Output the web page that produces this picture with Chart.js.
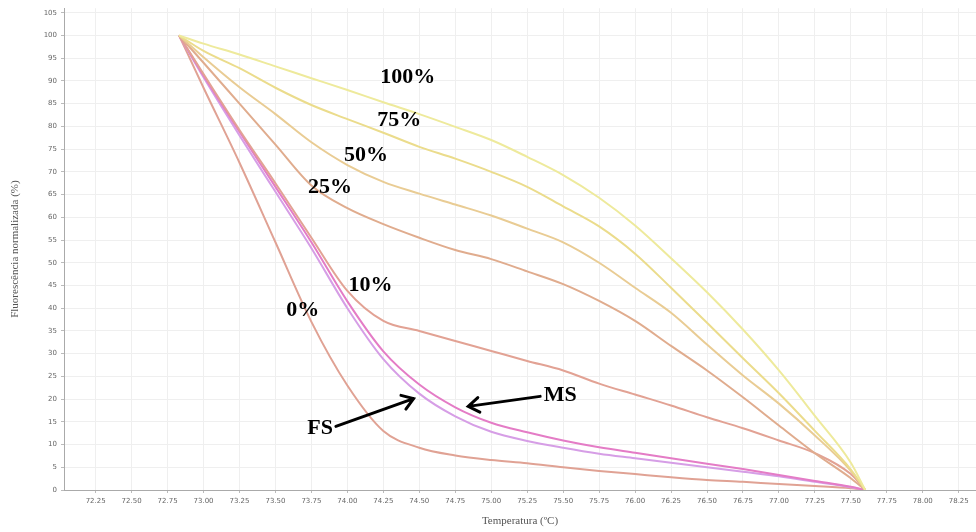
<!DOCTYPE html>
<html>
<head>
<meta charset="utf-8">
<script src="https://cdn.jsdelivr.net/npm/chart.js@4.4.1/dist/chart.umd.min.js"></script>
<style>
  html, body { margin: 0; padding: 0; background: #fff; }
  #wrap { width: 976px; height: 532px; }
</style>
</head>
<body>
<div id="wrap"><canvas id="myChart" width="976" height="532"></canvas></div>
<script>
'use strict';
// temperature (ºC) and normalised fluorescence (%)
let temps = [72.83, 73.00, 73.25, 73.50, 73.75, 74.00, 74.25, 74.50, 74.75, 75.00, 75.25,
  75.50, 75.75, 76.00, 76.25, 76.50, 76.75, 77.00, 77.25, 77.50, 77.60];
let pct100 = [100, 98.2, 95.8, 93.2, 90.6, 88.0, 85.3, 82.7, 79.9, 77.0, 73.3, 69.3, 64.3, 58.2, 51.0, 43.5, 35.3, 26.3, 16.3, 6.0, 0];
let pct75 = [100, 96.6, 92.8, 88.5, 84.7, 81.6, 78.6, 75.5, 72.9, 70.0, 66.7, 62.4, 58.0, 52.0, 44.5, 36.8, 29.0, 21.3, 13.0, 4.5, 0];
let pct50 = [100, 95.2, 88.6, 82.7, 76.5, 71.5, 67.8, 65.2, 62.8, 60.4, 57.5, 54.5, 50.0, 44.5, 39.0, 32.0, 25.2, 19.0, 12.0, 4.2, 0];
let pct25 = [100, 94.0, 85.0, 76.0, 67.0, 62.0, 58.5, 55.5, 52.8, 50.8, 48.1, 45.3, 41.6, 37.2, 31.7, 26.3, 20.4, 14.2, 8.1, 2.6, 0];
let pct10 = [100, 91.5, 79.2, 67.5, 55.5, 43.8, 37.2, 35.0, 32.8, 30.6, 28.4, 26.3, 23.4, 21.0, 18.6, 16.0, 13.6, 10.9, 8.1, 3.5, 0];
let fsCurve = [100, 91.2, 78.8, 66.7, 54.5, 41.5, 30.5, 23.2, 18.2, 14.8, 12.7, 10.9, 9.4, 8.2, 7.0, 5.8, 4.6, 3.3, 2.0, 0.7, 0];
let msCurve = [100, 90.8, 78.0, 65.6, 53.2, 40.0, 28.8, 21.2, 16.2, 12.8, 10.8, 9.3, 8.0, 7.0, 6.0, 5.0, 4.0, 3.0, 1.8, 0.6, 0];
let pct0 = [100, 88.5, 72.0, 54.5, 37.0, 23.0, 13.0, 9.3, 7.6, 6.6, 5.9, 5.0, 4.2, 3.5, 2.8, 2.2, 1.8, 1.3, 0.9, 0.4, 0];

let seriesNames = ['100%', '75%', '50%', '25%', '10%', 'FS', 'MS', '0%'];
let seriesValues = [pct100, pct75, pct50, pct25, pct10, fsCurve, msCurve, pct0];
let seriesColors = ['#eeea9c', '#ebdc8c', '#e9cc94', '#e0ac8e', '#e2a294', '#e47cc6', '#d69ee6', '#e0a294'];

// text labels in the plot, placed in data units
let noteText = ['100%', '75%', '50%', '25%', '10%', '0%', 'FS', 'MS'];
let noteX = [74.42, 74.36, 74.13, 73.88, 74.16, 73.69, 73.81, 75.48];
let noteY = [90.8, 81.4, 73.7, 66.7, 45.1, 39.6, 13.6, 20.8];
// arrows [fromX, fromY, toX, toY]
let arrows = [[73.92, 14.0, 74.46, 20.1], [75.34, 20.6, 74.84, 18.4]];

let xTicks = [];
for (let t = 72.25; t <= 78.26; t += 0.25) {
    xTicks.push(Math.round(t * 100) / 100);
}

function makeDatasets() {
    let sets = [];
    for (let i = 0; i < seriesValues.length; i++) {
        let pts = [];
        for (let j = 0; j < temps.length; j++) {
            pts.push({ x: temps[j], y: seriesValues[i][j] });
        }
        sets.push({
            label: seriesNames[i],
            data: pts,
            borderColor: seriesColors[i],
            borderWidth: 2,
            pointRadius: 0,
            cubicInterpolationMode: 'monotone',
            fill: false
        });
    }
    return sets;
}

let notesPlugin = {
    id: 'notes',
    afterDatasetsDraw(chart) {
        let ctx = chart.ctx;
        let xs = chart.scales.x;
        let ys = chart.scales.y;
        ctx.save();
        ctx.fillStyle = '#000';
        ctx.font = 'bold 22px "Liberation Serif", "Times New Roman", serif';
        ctx.textAlign = 'center';
        ctx.textBaseline = 'middle';
        for (let i = 0; i < noteText.length; i++) {
            ctx.fillText(noteText[i], xs.getPixelForValue(noteX[i]), ys.getPixelForValue(noteY[i]));
        }
        ctx.strokeStyle = '#000';
        ctx.lineWidth = 3;
        ctx.lineCap = 'round';
        for (let a of arrows) {
            let x1 = xs.getPixelForValue(a[0]), y1 = ys.getPixelForValue(a[1]);
            let x2 = xs.getPixelForValue(a[2]), y2 = ys.getPixelForValue(a[3]);
            let ang = Math.atan2(y2 - y1, x2 - x1);
            ctx.beginPath();
            ctx.moveTo(x1, y1);
            ctx.lineTo(x2, y2);
            ctx.moveTo(x2 - 13 * Math.cos(ang - 0.6), y2 - 13 * Math.sin(ang - 0.6));
            ctx.lineTo(x2, y2);
            ctx.lineTo(x2 - 13 * Math.cos(ang + 0.6), y2 - 13 * Math.sin(ang + 0.6));
            ctx.stroke();
        }
        ctx.restore();
    }
};

function chartRender() {
    let ctx = document.getElementById('myChart').getContext('2d');
    let myChart = new Chart(ctx, {
        type: 'line',
        data: { datasets: makeDatasets() },
        options: {
            responsive: false,
            animation: false,
            layout: { padding: { top: 5, right: 0, left: 0, bottom: 0 } },
            plugins: { legend: { display: false }, tooltip: { enabled: false } },
            scales: {
                x: {
                    type: 'linear',
                    min: 72.03,
                    max: 78.37,
                    afterBuildTicks(scale) {
                        scale.ticks = xTicks.map(v => ({ value: v }));
                    },
                    afterFit(scale) { scale.height = 42; },
                    ticks: {
                        autoSkip: false,
                        maxRotation: 0,
                        padding: 4,
                        color: '#666',
                        font: { family: 'DejaVu Sans', size: 7 },
                        callback: v => v.toFixed(2)
                    },
                    grid: { color: '#efefef', tickLength: 3, tickColor: '#bbb' },
                    border: { color: '#aaa' },
                    title: {
                        display: true,
                        text: 'Temperatura (ºC)',
                        color: '#555',
                        font: { family: 'Liberation Serif', size: 11 },
                        padding: { top: 2, bottom: 4 }
                    }
                },
                y: {
                    min: 0,
                    max: 106,
                    afterBuildTicks(scale) {
                        let t = [];
                        for (let v = 0; v <= 105; v += 5) t.push({ value: v });
                        scale.ticks = t;
                    },
                    afterFit(scale) { scale.width = 64; },
                    ticks: {
                        padding: 4,
                        color: '#666',
                        font: { family: 'DejaVu Sans', size: 7 }
                    },
                    grid: { color: '#efefef', tickLength: 3, tickColor: '#bbb' },
                    border: { color: '#aaa' },
                    title: {
                        display: true,
                        text: 'Fluorescência normalizada (%)',
                        color: '#555',
                        font: { family: 'Liberation Serif', size: 11 },
                        padding: { top: 9, bottom: 4 }
                    }
                }
            }
        },
        plugins: [notesPlugin]
    });
}

chartRender();
</script>
</body>
</html>
